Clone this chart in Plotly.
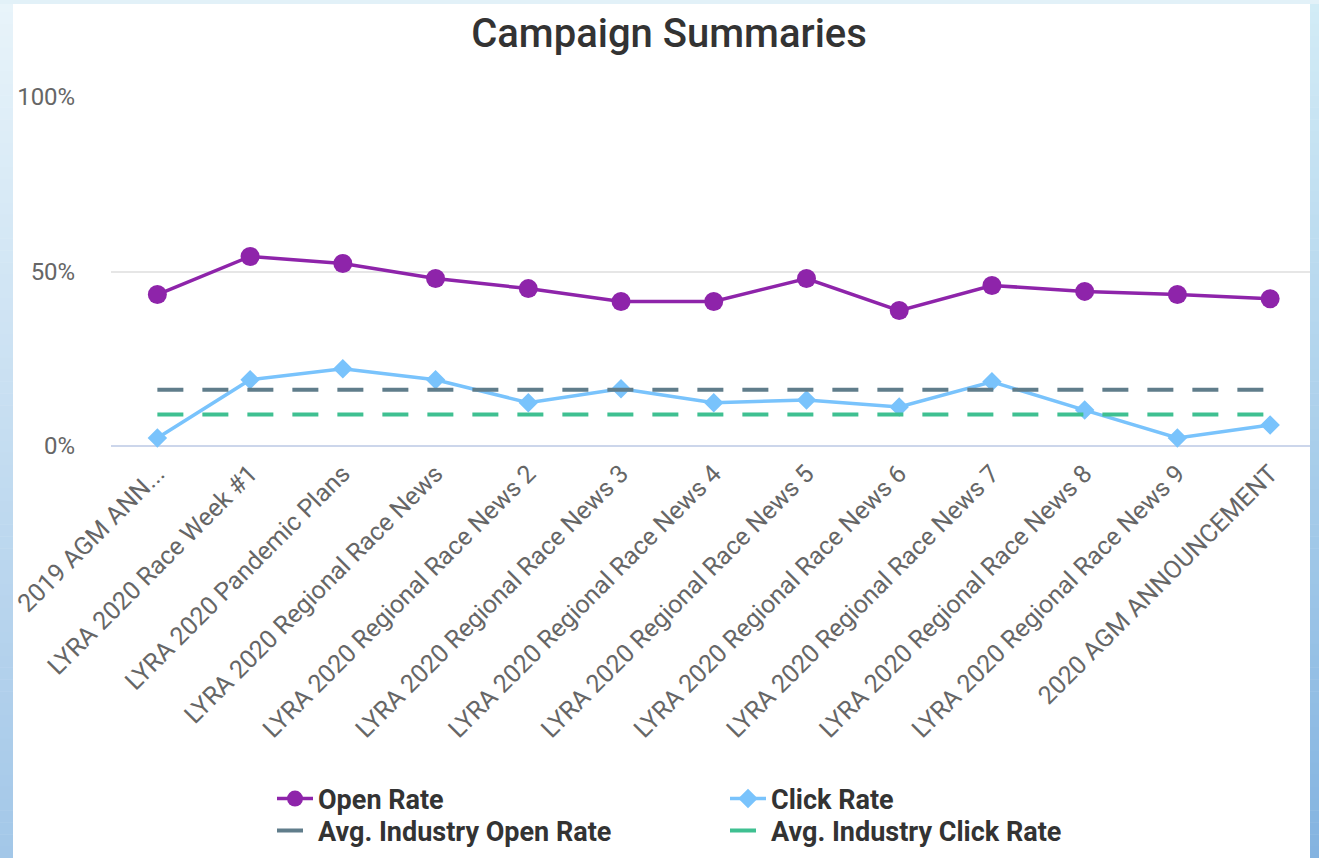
import plotly.graph_objects as go

categories = [
    "2019 AGM ANN...",
    "LYRA 2020 Race Week #1",
    "LYRA 2020 Pandemic Plans",
    "LYRA 2020 Regional Race News",
    "LYRA 2020 Regional Race News 2",
    "LYRA 2020 Regional Race News 3",
    "LYRA 2020 Regional Race News 4",
    "LYRA 2020 Regional Race News 5",
    "LYRA 2020 Regional Race News 6",
    "LYRA 2020 Regional Race News 7",
    "LYRA 2020 Regional Race News 8",
    "LYRA 2020 Regional Race News 9",
    "2020 AGM ANNOUNCEMENT",
]
open_rate = [43.4, 54.3, 52.3, 48.0, 45.1, 41.4, 41.4, 48.0, 38.8, 46.0, 44.3, 43.4, 42.2]
click_rate = [2.3, 19.0, 22.1, 19.0, 12.4, 16.4, 12.4, 13.2, 11.2, 18.4, 10.3, 2.3, 6.0]
avg_open_rate = [16.1] * len(categories)
avg_click_rate = [9.0] * len(categories)
y_ticks = [0, 50, 100]
y_tick_labels = ["0%", "50%", "100%"]

W, H = 1319, 858
L, R, T, B = 111, 9, 97, 412
PW, PH = W - L - R, H - T - B


def fx(px):  # page pixel -> plot-domain fraction
    return (px - L) / PW


def fy(py):
    return (H - B - py) / PH


def lerp(c1, c2, t):
    a = [int(c1[i:i + 2], 16) for i in (1, 3, 5)]
    b = [int(c2[i:i + 2], 16) for i in (1, 3, 5)]
    return "#%02x%02x%02x" % tuple(round(a[k] + (b[k] - a[k]) * t) for k in range(3))


# background: light-blue vertical gradient (approximated with thin slabs) + white card
shapes = []
n = 72
for i in range(n):
    y0, y1 = H * i / n, H * (i + 1) / n + 0.5
    t = (i + 0.5) / n
    shapes.append(dict(type="rect", xref="paper", yref="paper", layer="below",
                       x0=fx(-2), x1=fx(660), y0=fy(y0), y1=fy(y1),
                       fillcolor=lerp("#e8f4fa", "#a3c7e8", t), line=dict(width=0)))
    shapes.append(dict(type="rect", xref="paper", yref="paper", layer="below",
                       x0=fx(660), x1=fx(1330), y0=fy(y0), y1=fy(y1),
                       fillcolor=lerp("#d3ecf6", "#83b3e0", t), line=dict(width=0)))
shapes.append(dict(type="rect", xref="paper", yref="paper", layer="below",
                   x0=fx(-2), x1=fx(1330), y0=fy(-2), y1=fy(4),
                   fillcolor="#e2f1f8", line=dict(width=0)))
shapes.append(dict(type="rect", xref="paper", yref="paper", layer="below",
                   x0=fx(13), x1=fx(1310), y0=fy(4), y1=fy(870),
                   fillcolor="#ffffff", line=dict(width=0)))

fig = go.Figure()
fig.add_trace(go.Scatter(
    x=categories, y=open_rate, name="Open Rate", mode="lines+markers",
    line=dict(color="#8e24aa", width=3.5),
    marker=dict(symbol="circle", size=19, color="#8e24aa"),
    cliponaxis=False, legend="legend",
))
fig.add_trace(go.Scatter(
    x=categories, y=click_rate, name="Click Rate", mode="lines+markers",
    line=dict(color="#79c3fc", width=3.5),
    marker=dict(symbol="diamond", size=15, color="#79c3fc"),
    cliponaxis=False, legend="legend",
))
fig.add_trace(go.Scatter(
    x=categories, y=avg_open_rate, name="Avg. Industry Open Rate", mode="lines",
    line=dict(color="#607d8b", width=4, dash="26px,19px"), legend="legend2",
))
fig.add_trace(go.Scatter(
    x=categories, y=avg_click_rate, name="Avg. Industry Click Rate", mode="lines",
    line=dict(color="#3fc091", width=4, dash="26px,19px"), legend="legend2",
))

legend_style = dict(orientation="h", xanchor="left", yanchor="middle",
                    xref="paper", yref="paper",
                    font=dict(family="Roboto", size=27, color="#333333", weight="bold"),
                    entrywidth=402, entrywidthmode="pixels", itemwidth=36,
                    bgcolor="rgba(0,0,0,0)", traceorder="normal")

fig.update_layout(
    width=W, height=H,
    margin=dict(l=L, r=R, t=T, b=B, pad=0, autoexpand=False),
    paper_bgcolor="#ffffff",
    plot_bgcolor="rgba(0,0,0,0)",
    shapes=shapes,
    font=dict(family="Roboto", size=24, color="#666666"),
    title=dict(text="Campaign Summaries", x=669 / W, xref="container", xanchor="center",
               y=1 - 33 / H, yref="container", yanchor="middle",
               font=dict(family="Roboto", size=40, color="#333333", weight=500)),
    showlegend=True,
    legend=dict(x=fx(272), y=fy(799), **legend_style),
    legend2=dict(x=fx(272), y=fy(831), **legend_style),
    xaxis=dict(
        type="category", range=[-0.5, 12.43], tickangle=-45,
        showgrid=False, zeroline=False, showline=False, automargin=False,
        ticks="outside", ticklen=2, tickcolor="rgba(0,0,0,0)",
        tickfont=dict(family="Roboto", size=25, color="#666666"),
    ),
    yaxis=dict(
        range=[0, 100], tickmode="array", tickvals=y_ticks, ticktext=y_tick_labels,
        showgrid=True, gridcolor="#e6e6e6", gridwidth=1.5,
        zeroline=True, zerolinecolor="#ccd6eb", zerolinewidth=1.5,
        showline=False, automargin=False,
        ticks="outside", ticklen=30, tickcolor="rgba(0,0,0,0)",
        tickfont=dict(family="Roboto", size=24, color="#666666"),
    ),
    hovermode=False,
)

fig.write_html(
    "out.html",
    config={"displayModeBar": False},
    post_script="document.body.style.margin='0';document.documentElement.style.overflow='hidden';",
)
